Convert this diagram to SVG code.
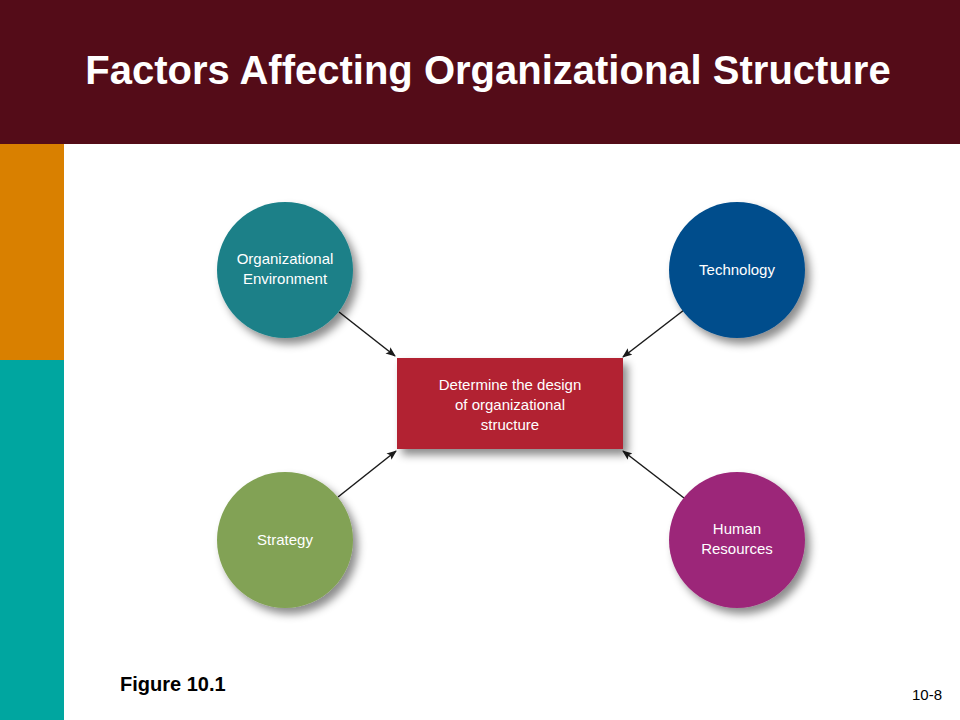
<svg xmlns="http://www.w3.org/2000/svg" width="960" height="720" viewBox="0 0 960 720">
<defs>
<filter id="sh" x="-20%" y="-20%" width="150%" height="150%"><feDropShadow dx="5" dy="6" stdDeviation="4" flood-color="#000" flood-opacity="0.45"/></filter>
<marker id="ah" markerWidth="10" markerHeight="8" refX="9" refY="4" orient="auto" markerUnits="userSpaceOnUse"><path d="M0,0 L10,4 L0,8 L2,4 Z" fill="#1a1a1a"/></marker>
<style>
.lbl{font-family:"Liberation Sans",Arial,sans-serif;fill:#fff;font-size:15px;text-anchor:middle}
.c{stroke:#1a1a1a;stroke-width:1.5;fill:none;marker-end:url(#ah)}
</style>
</defs>
<rect width="960" height="720" fill="#fff"/>
<rect width="960" height="144" fill="#540c18"/>
<rect x="0" y="144" width="64" height="216" fill="#d98000"/>
<rect x="0" y="360" width="64" height="360" fill="#00a6a0"/>
<text x="488" y="84" font-family="Liberation Sans,Arial,sans-serif" font-weight="bold" font-size="40" fill="#fff" text-anchor="middle">Factors Affecting Organizational Structure</text>
<g id="connectors">
<line class="c" x1="339" y1="312" x2="395" y2="356"/>
<line class="c" x1="684" y1="310" x2="623" y2="357"/>
<line class="c" x1="338" y1="497" x2="396" y2="451"/>
<line class="c" x1="684" y1="498" x2="623" y2="451"/>
</g>
<g id="center"><rect x="397" y="358" width="226" height="91" fill="#b22431" filter="url(#sh)"/>
<text class="lbl" x="510" y="390">Determine the design</text><text class="lbl" x="510" y="410">of organizational</text><text class="lbl" x="510" y="430">structure</text></g>
<g id="env"><circle cx="285" cy="270" r="68" fill="#1b8088" filter="url(#sh)"/>
<text class="lbl" x="285" y="264">Organizational</text><text class="lbl" x="285" y="284">Environment</text></g>
<g id="tech"><circle cx="737" cy="270" r="68" fill="#064d8c" filter="url(#sh)"/>
<text class="lbl" x="737" y="275">Technology</text></g>
<g id="strategy"><circle cx="285" cy="540" r="68" fill="#82a254" filter="url(#sh)"/>
<text class="lbl" x="285" y="545">Strategy</text></g>
<g id="hr"><circle cx="737" cy="540" r="68" fill="#9c2779" filter="url(#sh)"/>
<text class="lbl" x="737" y="534">Human</text><text class="lbl" x="737" y="554">Resources</text></g>
<text x="120" y="691" font-family="Liberation Sans,Arial,sans-serif" font-weight="bold" font-size="20" fill="#000">Figure 10.1</text>
<text x="942" y="700" font-family="Liberation Sans,Arial,sans-serif" font-size="15" fill="#000" text-anchor="end">10-8</text>
</svg>
